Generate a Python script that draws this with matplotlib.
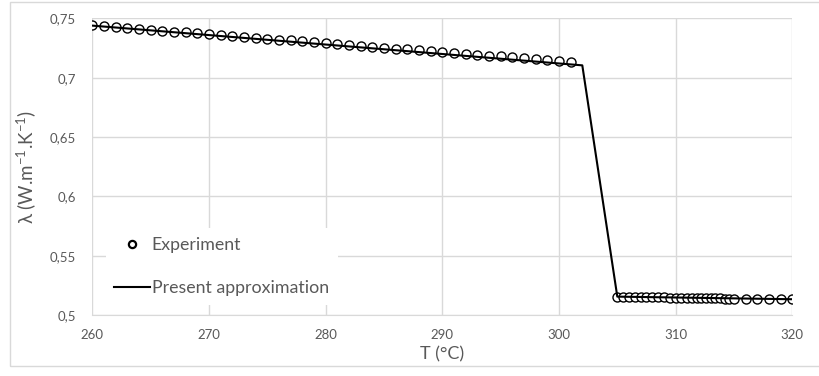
import matplotlib
matplotlib.use("Agg")
import matplotlib.pyplot as plt
from matplotlib.patches import Rectangle
from matplotlib.ticker import FuncFormatter

plt.rcParams['font.family'] = ['Lato', 'DejaVu Sans']
plt.rcParams['mathtext.fontset'] = 'custom'
plt.rcParams['mathtext.rm'] = 'Lato'
plt.rcParams['mathtext.it'] = 'Lato:italic'

# Measured thermal conductivity (solid branch, then liquid branch)
exp_T = [260, 261, 262, 263, 264, 265, 266, 267, 268, 269,
         270, 271, 272, 273, 274, 275, 276, 277, 278, 279,
         280, 281, 282, 283, 284, 285, 286, 287, 288, 289,
         290, 291, 292, 293, 294, 295, 296, 297, 298, 299,
         300, 301,
         305.0, 305.5, 306.0, 306.5, 307.0, 307.5, 308.0, 308.5, 309.0, 309.5,
         310.0, 310.5, 311.0, 311.4, 311.8, 312.2, 312.6, 313.0, 313.4, 313.8,
         314.2, 314.6, 315.0,
         316, 317, 318, 319, 320]
exp_lambda = [0.7445, 0.7437, 0.7425, 0.7420, 0.7410, 0.7405, 0.7395, 0.7390, 0.7382, 0.7375,
              0.7368, 0.7360, 0.7352, 0.7345, 0.7337, 0.7330, 0.7322, 0.7315, 0.7307, 0.7300,
              0.7292, 0.7285, 0.7277, 0.7270, 0.7262, 0.7255, 0.7247, 0.7240, 0.7232, 0.7225,
              0.7218, 0.7210, 0.7202, 0.7195, 0.7188, 0.7180, 0.7172, 0.7165, 0.7157, 0.7150,
              0.7143, 0.7135,
              0.5155, 0.5155, 0.5154, 0.5153, 0.5152, 0.5151, 0.5150, 0.5149, 0.5148, 0.5147,
              0.5146, 0.5145, 0.5144, 0.5143, 0.5143, 0.5142, 0.5141, 0.5141, 0.5140, 0.5140,
              0.5139, 0.5139, 0.5138,
              0.5137, 0.5136, 0.5135, 0.5134, 0.5133]

# Piecewise approximation of the conductivity across the melting range
approx_T = [260, 302, 305, 320]
approx_lambda = [0.7440, 0.7105, 0.5155, 0.5133]

x_ticks = [260, 270, 280, 290, 300, 310, 320]
y_ticks = [0.5, 0.55, 0.6, 0.65, 0.7, 0.75]

grid_c = '#d9d9d9'
text_c = '#595959'

fig = plt.figure(figsize=(8.19, 3.76), dpi=100)
ax = fig.add_axes([0.1127, 0.1622, 0.8547, 0.7886])

ax.plot(exp_T, exp_lambda, ls='none', marker='o', ms=6.5, mfc='white',
        mec='black', mew=1.0, zorder=3, label='Experiment')
ax.plot(approx_T, approx_lambda, color='black', lw=1.5, zorder=4,
        label='Present approximation')

ax.set_xlim(260, 320)
ax.set_ylim(0.5, 0.75)
ax.set_xticks(x_ticks)
ax.set_yticks(y_ticks)
ax.xaxis.set_major_formatter(FuncFormatter(lambda v, p: f'{v:g}'))
ax.yaxis.set_major_formatter(FuncFormatter(lambda v, p: f'{v:g}'.replace('.', ',')))
ax.grid(True, color=grid_c, lw=1.0)
ax.set_axisbelow(True)
for s in ['top', 'right', 'left']:
    ax.spines[s].set_visible(False)
ax.spines['bottom'].set_color(grid_c)
ax.tick_params(length=0, labelsize=9.5, labelcolor=text_c)
ax.tick_params(axis='x', pad=10)
ax.tick_params(axis='y', pad=12)

ax.set_xlabel('T (°C)', fontsize=13, color=text_c, labelpad=4)
ax.set_ylabel(r'λ (W.m$^{-1}$.K$^{-1}$)', fontsize=13.5, color=text_c, labelpad=8)

leg = ax.legend(loc='lower left', bbox_to_anchor=(0.019, 0.035), frameon=True,
                fontsize=12.8, labelcolor=text_c, handlelength=2.0,
                handletextpad=0.1, labelspacing=1.5, borderpad=0.5,
                borderaxespad=0, markerscale=0.8)
leg.get_frame().set_facecolor('white')
leg.get_frame().set_edgecolor('none')
leg.get_frame().set_alpha(1)
for h in leg.legend_handles:
    h.set_markeredgewidth(1.6)

# Outer chart border
fig.patches.append(Rectangle((10 / 819, 1 - 366 / 376), 1.0, (366 - 2) / 376,
                             transform=fig.transFigure, fill=False,
                             edgecolor=grid_c, lw=1.0))

fig.savefig('out.png', dpi=100, facecolor='white')
